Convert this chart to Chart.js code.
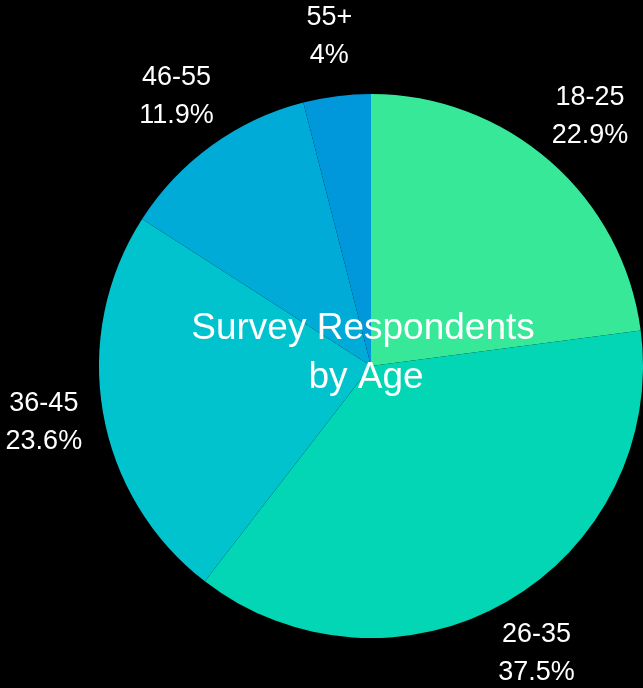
<!DOCTYPE html>
<html>
<head>
<meta charset="utf-8">
<script src="https://cdn.jsdelivr.net/npm/chart.js@4/dist/chart.umd.min.js"></script>
<style>
    html, body { margin: 0; padding: 0; background: #000; }
    #wrap { width: 643px; height: 688px; }
</style>
</head>
<body>
<div id="wrap"><canvas id="ageChart"></canvas></div>
<script>
// Data
var ageGroups = ['18-25', '26-35', '36-45', '46-55', '55+'];
var sharePercent = [22.9, 37.5, 23.6, 11.9, 4];
var sliceColors = ['#38e899', '#03d6b5', '#00c3cd', '#00abd7', '#0097db'];
var titleLines = ['Survey Respondents', 'by Age'];

// Outside labels + centre title
var pieText = {
    id: 'pieText',
    afterDraw: function (chart) {
        var ctx = chart.ctx;
        var arcs = chart.getDatasetMeta(0).data;
        ctx.save();
        ctx.fillStyle = '#fff';
        ctx.textAlign = 'center';
        ctx.textBaseline = 'middle';
        ctx.font = '27px "Liberation Sans", Arial, sans-serif';
        arcs.forEach(function (arc, i) {
            var mid = (arc.startAngle + arc.endAngle) / 2;
            var r = arc.outerRadius + 60;
            var x = arc.x + Math.cos(mid) * r;
            var y = arc.y + Math.sin(mid) * r;
            ctx.fillText(ageGroups[i], x, y - 19);
            ctx.fillText(sharePercent[i] + '%', x, y + 19);
        });

        var c = arcs[0];
        ctx.font = '37px "Liberation Sans", Arial, sans-serif';
        ctx.textBaseline = 'alphabetic';
        ctx.fillText(titleLines[0], c.x - 8, 339);
        ctx.fillText(titleLines[1], c.x - 5, 388);
        ctx.restore();
    }
};

var ctx = document.getElementById('ageChart').getContext('2d');
var ageChart = new Chart(ctx, {
    type: 'pie',
    data: {
        labels: ageGroups,
        datasets: [{
            data: sharePercent,
            backgroundColor: sliceColors,
            borderWidth: 0
        }]
    },
    options: {
        responsive: true,
        maintainAspectRatio: false,
        animation: false,
        layout: {
            padding: { left: 99, right: 0, top: 94, bottom: 50 }
        },
        plugins: {
            legend: { display: false },
            tooltip: { enabled: false }
        }
    },
    plugins: [pieText]
});
</script>
</body>
</html>
